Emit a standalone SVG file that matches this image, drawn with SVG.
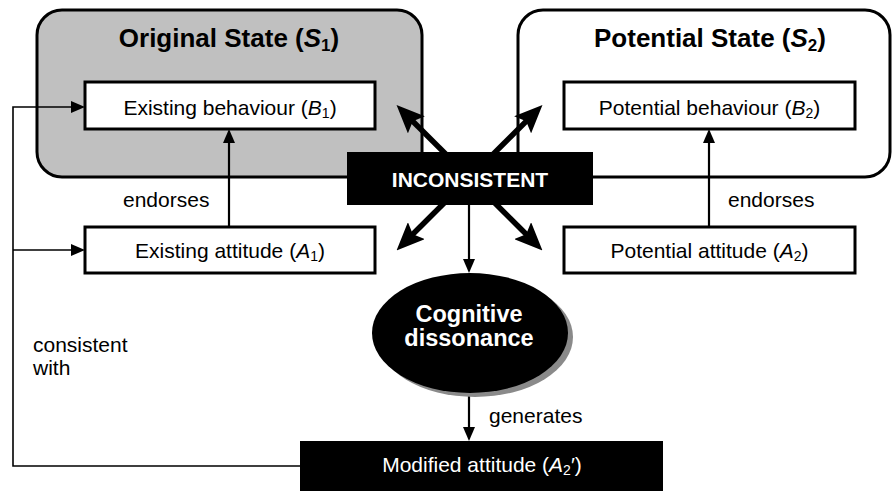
<svg xmlns="http://www.w3.org/2000/svg" width="893" height="491" viewBox="0 0 893 491">
<defs>
<style>
text{font-family:"Liberation Sans",Arial,sans-serif;fill:#000}
.title{font-size:26px;font-weight:bold}
.lbl{font-size:21px}
.w{fill:#fff}
.b{font-weight:bold}
.box{fill:#fff;stroke:#000;stroke-width:3}
.thin{fill:none;stroke:#000;stroke-width:1.6}
.mid{fill:none;stroke:#000;stroke-width:2.2}
.thick{fill:none;stroke:#000;stroke-width:5.5}
</style>
<marker id="ah" markerUnits="userSpaceOnUse" markerWidth="14" markerHeight="12" refX="10" refY="6" orient="auto">
<path d="M0,0 L14,6 L0,12 z" fill="#000"/>
</marker>
<marker id="big" markerUnits="userSpaceOnUse" markerWidth="28" markerHeight="24" refX="9" refY="12" orient="auto-start-reverse">
<path d="M0,0 L28,12 L0,24 L5,12 z" fill="#000"/>
</marker>
</defs>

<g id="original-state">
<rect x="37" y="10" width="385" height="167" rx="25" ry="25" fill="#c0c0c0" stroke="#000" stroke-width="3"/>
<text class="title" x="229" y="47" text-anchor="middle">Original State (<tspan font-style="italic">S</tspan><tspan font-size="17" dy="4">1</tspan><tspan dy="-4">)</tspan></text>
</g>

<g id="potential-state">
<rect x="518" y="10" width="372" height="167" rx="25" ry="25" fill="#fff" stroke="#000" stroke-width="3"/>
<text class="title" x="710" y="47" text-anchor="middle">Potential State (<tspan font-style="italic">S</tspan><tspan font-size="17" dy="4">2</tspan><tspan dy="-4">)</tspan></text>
</g>

<g id="existing-behaviour">
<rect class="box" x="85" y="82" width="290" height="47"/>
<text class="lbl" x="230" y="115" text-anchor="middle">Existing behaviour (<tspan font-style="italic">B</tspan><tspan font-size="14" dy="3">1</tspan><tspan dy="-3">)</tspan></text>
</g>

<g id="potential-behaviour">
<rect class="box" x="564" y="82" width="291" height="47"/>
<text class="lbl" x="709.5" y="115" text-anchor="middle">Potential behaviour (<tspan font-style="italic">B</tspan><tspan font-size="14" dy="3">2</tspan><tspan dy="-3">)</tspan></text>
</g>

<g id="existing-attitude">
<rect class="box" x="85" y="227" width="290" height="46"/>
<text class="lbl" x="230" y="258" text-anchor="middle">Existing attitude (<tspan font-style="italic">A</tspan><tspan font-size="14" dy="3">1</tspan><tspan dy="-3">)</tspan></text>
</g>

<g id="potential-attitude">
<rect class="box" x="564" y="227" width="291" height="46"/>
<text class="lbl" x="709.5" y="258" text-anchor="middle">Potential attitude (<tspan font-style="italic">A</tspan><tspan font-size="14" dy="3">2</tspan><tspan dy="-3">)</tspan></text>
</g>

<g id="connectors">
<line class="mid" x1="229" y1="227" x2="229" y2="133" marker-end="url(#ah)"/>
<line class="mid" x1="709" y1="227" x2="709" y2="133" marker-end="url(#ah)"/>
<polyline class="thin" points="300,466 13,466 13,107 81,107" marker-end="url(#ah)"/>
<line class="thin" x1="13" y1="250" x2="81" y2="250" marker-end="url(#ah)"/>
<line class="mid" x1="469" y1="205" x2="469" y2="269" marker-end="url(#ah)"/>
<line class="mid" x1="469" y1="394" x2="469" y2="437" marker-end="url(#ah)"/>
<line class="thick" x1="410" y1="118.5" x2="529" y2="237" marker-start="url(#big)" marker-end="url(#big)"/>
<line class="thick" x1="529" y1="118.5" x2="410" y2="237" marker-start="url(#big)" marker-end="url(#big)"/>
<text class="lbl" x="123" y="207">endorses</text>
<text class="lbl" x="728" y="207">endorses</text>
<text class="lbl" x="33" y="352">consistent</text>
<text class="lbl" x="33" y="375">with</text>
<text class="lbl" x="489" y="423">generates</text>
</g>

<g id="inconsistent">
<rect x="347" y="152" width="246" height="53" fill="#000"/>
<text class="w b" x="470" y="187" font-size="21" text-anchor="middle">INCONSISTENT</text>
</g>

<g id="cognitive-dissonance">
<ellipse cx="475" cy="337" rx="98" ry="60" fill="#8a8a8a"/>
<ellipse cx="470" cy="333" rx="98" ry="60" fill="#000"/>
<text class="w b" x="469" y="322" font-size="23.5" text-anchor="middle">Cognitive</text>
<text class="w b" x="469" y="346" font-size="23.5" text-anchor="middle">dissonance</text>
</g>

<g id="modified-attitude">
<rect x="300" y="441" width="363" height="50" fill="#000"/>
<text class="lbl w" x="482" y="472" text-anchor="middle">Modified attitude (<tspan font-style="italic">A</tspan><tspan font-size="14" dy="3">2</tspan><tspan dy="-3">′)</tspan></text>
</g>
</svg>
